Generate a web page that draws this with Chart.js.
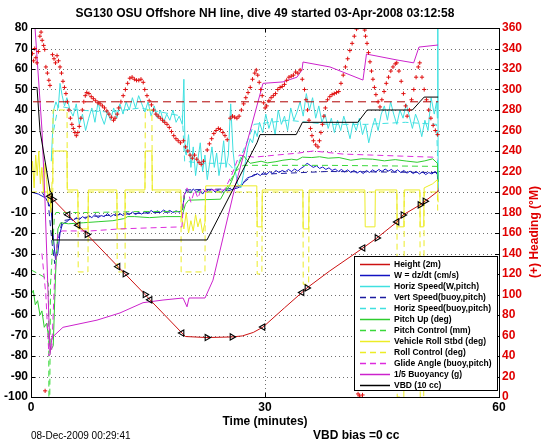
<!DOCTYPE html>
<html>
<head>
<meta charset="utf-8">
<script src="https://cdn.jsdelivr.net/npm/chart.js@4.4.1/dist/chart.umd.min.js"></script>
<style>
  html, body { margin: 0; padding: 0; background: #fff; }
  canvas { display: block; }
</style>
</head>
<body>
<canvas id="dive" width="546" height="442" style="width:546px;height:442px"></canvas>
<script>
// values, [time (minutes), value]
const height = [[2.3,-1.5],[2.44,-2.1],[2.82,-3.6],[4.74,-11.1],[6.03,-16.2],[7.18,-20.7],[11.15,-36.4],[12.05,-39.9],[14.62,-50],[15.26,-52.6],[19.36,-68.8],[19.8,-70.5],[22.56,-71],[25.77,-70.7],[27.1,-70.2],[28.5,-68.5],[29.74,-65.9],[32.5,-56.5],[34.74,-49],[35.38,-46.8],[38.3,-38.5],[41.28,-30.7],[42.56,-27.3],[44.36,-22.4],[46.92,-14.6],[47.69,-11.2],[49.87,-6.3],[50.51,-4.5],[52.05,0],[52.2,0.8]];

const wSpeed = [[0,0],[0.95,-1],[1.9,-3],[2.57,-8],[2.86,-22],[3.14,-33],[3.43,-30],[3.72,-20],[4.0,-16],[4.29,-15],
  [4.6,-14.5],[5.0,-13],[5.4,-14],[5.8,-12.5],[6.2,-13.5],[6.6,-12],[7.0,-13],[7.4,-11.5],[7.8,-12.5],[8.2,-11],[8.6,-12.5],[9.0,-11.5],[9.4,-12],[9.8,-10.5],[10.2,-12],[10.6,-11],[11.0,-11.8],[11.4,-10.5],[11.8,-11.5],[12.2,-10],[12.6,-11],[13.0,-9.8],[13.4,-11],[13.8,-10],[14.2,-10.8],[14.6,-9.5],[15.0,-10.5],[15.4,-9],[15.8,-10.2],[16.2,-9.2],[16.6,-10],[17.0,-8.8],[17.4,-9.8],[17.8,-9],[18.2,-10],[18.6,-9.2],[19.0,-9.8],[19.4,-8.8],
  [19.7,-1],[20.0,1],[20.4,-0.5],[20.8,1.5],[21.2,0],[21.6,1],[22.0,-1],[22.4,1.2],[22.8,0.3],[23.2,1.5],[23.6,0],[24.0,1],[24.4,-0.5],[24.8,1.2],[25.2,0.5],[25.6,1],[26.0,1.5],[26.5,2],[27.0,3],[27.4,5.5],[27.8,7],[28.2,7.5],[28.6,8],
  [29.0,9],[29.4,8],[29.8,9.5],[30.2,8.5],[30.6,10],[31.0,9],[31.4,10.5],[31.8,9.5],[32.2,10.5],[32.6,9.8],[33.0,11],[33.4,10],[33.8,11.2],[34.2,10.2],[34.6,11.5],[35.0,12.5],[35.4,14],[35.8,13],[36.2,12],[36.6,12.8],[37.0,11.5],[37.4,12.2],[37.8,11],[38.2,11.8],[38.6,10.5],[39.0,11.2],[39.4,10],[39.8,11],[40.2,9.8],[40.6,10.8],[41.0,9.5],[41.4,10.5],[41.8,9.2],[42.2,10.2],[42.6,9],[43.0,10.5],[43.4,9.5],[43.8,10.8],[44.2,9.8],[44.6,11],[45.0,10],[45.4,11.2],[45.8,10.2],[46.2,11],[46.6,9.8],[47.0,10.8],[47.4,9.5],[47.8,10.5],[48.2,9.2],[48.6,10.2],[49.0,9],[49.4,10],[49.8,8.8],[50.2,9.8],[50.6,8.5],[51.0,9.5],[51.4,8.8],[51.8,10],[52.1,8.5],[52.2,0]];

const hSpeed = [[2.6,15],[2.9,40],[3.2,44],[3.5,41],[3.72,53],[4.0,47],[4.3,42],
  [4.6,46],[5.0,40],[5.4,37],[5.8,43],[6.2,33],[6.6,38],[7.0,30],[7.4,36],[7.8,41],[8.2,34],[8.6,44],[9.0,37],[9.4,33],[9.8,39],[10.2,35],[10.6,41],[11.0,36],[11.4,43],[11.8,38],[12.2,44],[12.6,40],[13.0,46],[13.4,41],[13.8,47],[14.2,43],[14.6,39],[15.0,44],[15.4,37],[15.8,42],[16.2,36],[16.6,40],[17.0,34],[17.4,38],[17.8,35],[18.2,40],[18.6,34],[19.0,37],[19.4,33],[19.6,55],[19.75,20],
  [19.9,18],[20.2,28],[20.5,12],[20.8,22],[21.1,8],[21.4,16],[21.7,24],[22.0,10],[22.3,18],[22.6,6],[22.9,14],[23.2,22],[23.5,12],[23.8,19],[24.1,8],[24.4,15],[24.7,25],[25.0,12],[25.3,18],[25.6,43],[25.9,20],[26.2,10],[26.5,4],[26.9,2],[27.2,8],[27.5,15],[27.8,22],[28.1,26],[28.4,24],[28.7,30],[29.0,27],
  [29.3,34],[29.7,29],[30.1,38],[30.5,31],[30.9,36],[31.3,28],[31.7,40],[32.1,33],[32.5,37],[32.9,30],[33.3,41],[33.7,35],[34.1,39],[34.5,44],[34.9,37],[35.3,48],[35.7,40],[36.1,46],[36.5,36],[36.9,42],[37.3,34],[37.7,38],[38.1,31],[38.5,36],[38.9,29],[39.3,35],[39.7,30],[40.1,37],[40.5,32],[40.9,26],[41.3,34],[41.7,30],[42.1,36],[42.5,28],[42.9,33],[43.3,24],[43.7,31],[44.1,36],[44.5,30],[44.9,38],[45.3,42],[45.7,35],[46.1,44],[46.5,38],[46.9,33],[47.3,40],[47.7,36],[48.1,43],[48.5,37],[48.9,31],[49.3,38],[49.7,34],[50.1,27],[50.5,35],[50.9,30],[51.3,46],[51.7,38],[52.0,44],[52.1,36],[52.15,100],[52.2,2]];

const vSpeedBuoy = [[1.4,0],[2.2,-5],[2.7,-25],[3.05,-35],[3.4,-25],[4.0,-14],[7.6,-12],[13.3,-10.5],[19.4,-9.5],[19.75,1],[25.3,1.5],[26.7,3],[28.6,8.5],[38,10],[52.1,9.5]];

const hSpeedBuoy = [[2.9,30],[3.5,42],[6,40],[10,39],[14,41],[18,38],[19.4,37],[19.7,15],[22,14],[25.3,14],[26.2,10],[27.2,20],[28.6,33],[33,35],[38,33],[43,33],[48,34],[52,33],[52.2,5]];

const pitch = [[0,-50],[0.3,-48],[0.55,-55],[0.85,-53],[1.15,-60],[1.4,-58],[1.7,-66],[2.0,-64],[2.3,-72],[2.55,-77],[2.85,-75],[3.15,-40],[3.45,-18],[3.8,-15],[4.8,-15.5],[6.7,-15],[8.6,-14.5],[10.5,-14],[11.9,-13],[12.4,-12],[13.3,-12],[15.2,-12.5],[17.2,-12],[19.35,-12],[19.8,-6],[20.2,-4],[24.3,-3.5],[24.8,0],[25.3,2],[25.7,5],[26.2,10],[26.7,14],[27.2,18],[27.6,16],[28.1,14],[29.5,15],[30.3,14.2],[31.4,14.8],[32.3,15.5],[33.4,16],[34.1,15.6],[34.8,17],[36,16.8],[37,17.2],[38.1,16.5],[39.5,16.8],[41,15.5],[42.4,16.2],[43.8,16],[45.3,15.2],[46.7,15.8],[48.1,15.1],[49.5,14.5],[50.5,15.2],[51.5,16.2],[52.1,14],[52.2,5]];

const pitchCtl = [[0,-38],[1,-40],[1.9,-42],[2.25,-45],[2.3,-105],[2.4,-105],[2.5,-45],[3.0,-12],[3.2,-10],[7.6,-10],[14.3,-9.5],[19.35,-9.5],[19.7,0],[24.8,0],[26.2,10],[27.2,13],[38.1,13],[52.1,12.5]];

const roll = [[0,5],[0.2,15],[0.4,2],[0.6,18],[0.8,8],[1.0,20],[1.2,4],[1.4,12],[1.6,0],[1.8,14],[2.0,6],[2.2,-5],[2.4,2],[2.55,-10],[2.7,5],[2.8,20],[4.6,20],[4.65,1],[6.0,1],[6.05,-18],[7.3,-18],[7.35,1],[11.0,1],[11.05,-18],[12.0,-18],[12.05,1],[14.6,1],[14.65,20],[15.5,20],[15.55,1],[19.2,1],[19.3,-12],[19.6,-18],[19.9,-10],[20.2,-20],[20.5,-14],[20.8,-19],[21.1,-11],[21.4,-17],[21.7,-13],[22.0,-20],[22.3,-15],[22.4,3],[28.95,3],[29.0,-17],[29.6,-17],[29.65,1],[34.85,1],[34.9,-18],[35.6,-18],[35.65,1],[42.8,1],[42.85,-17],[44.1,-17],[44.15,1],[46.9,1],[46.95,-17],[47.8,-17],[47.85,1],[49.85,1],[49.9,-17],[50.35,-17],[50.4,2],[51.5,4],[52.1,6],[52.2,-5]];

const rollCtl = [[0,0],[2.8,0],[2.82,40],[4.62,40],[4.65,0],[6.03,0],[6.05,-39],[7.3,-39],[7.35,0],[11.03,0],[11.05,-39],[12.05,-39],[12.1,0],[14.62,0],[14.65,40],[15.5,40],[15.55,0],[19.23,0],[19.25,-39],[22.3,-39],[22.35,0],[28.97,0],[29.0,-40],[29.6,-40],[29.65,0],[34.87,0],[34.9,-45],[35.6,-45],[35.65,0],[46.92,0],[46.95,-100],[47.8,-100],[47.85,0],[49.87,0],[49.9,-100],[50.35,-100],[50.4,0],[52.1,0],[52.15,-10]];

const glide = [[1.4,-30],[1.9,-50],[2.3,-80],[2.65,-78],[3.05,-40],[3.45,-20],[4.0,-19],[7.6,-19],[11.4,-18],[15.2,-17.5],[19.35,-17],[19.6,-2],[20.0,2],[20.5,-5],[21.0,1],[21.4,-3],[21.9,2],[22.4,0],[22.9,1],[24.8,1],[25.7,8],[26.7,18],[28.6,17],[31.4,18],[34.3,19],[36.2,20],[40,18.5],[43.8,18],[47.6,17.5],[51.5,17],[52.1,16]];

const buoyancy = [[0.38,95],[0.51,80.5],[1.41,30.2],[1.79,-3.9],[2.44,-78.5],[2.69,-71],[4.1,-66],[8.46,-62.5],[11.41,-59],[14.36,-54],[16.92,-52.7],[19.49,-51.7],[20.0,-56],[20.26,-51.7],[22.31,-51.7],[23.33,-43],[26.15,2.4],[29.74,53],[32.31,53.7],[34.1,56],[34.74,59.5],[34.87,63.4],[38.33,61],[42.56,54.6],[43.01,67.3],[46.92,64.4],[49.06,63],[49.74,70.7],[52.18,71.7]];

const vbd = [[0.26,51],[0.77,51],[1.15,30],[2.44,0.5],[2.75,-1],[2.76,-23.4],[22.56,-23.4],[28.97,24],[29.36,28],[34.0,28],[34.8,34],[41.9,34],[43.1,40],[48.9,40],[50.4,46.3],[52.2,46.3]];

// right axis, degrees magnetic
const headingDesired = [[0.26,288],[52.2,288]];
const heading = [[0.19,335],[0.33,328],[0.48,340],[0.62,331],[0.76,326],[0.95,337],[1.14,352],[1.29,356],[1.43,348],[1.62,343],[1.76,339],[1.81,6],[1.91,322],[2.1,316],[2.29,309],[2.43,304],
  [2.76,334],[2.95,330],[3.14,326],[3.34,333],[3.53,328],[3.72,322],[3.91,316],[4.1,308],[4.29,302],[4.48,296],[4.67,288],[4.86,280],[5.05,272],[5.24,266],[5.43,262],[5.62,258],[5.81,255],[6.0,258],[6.19,264],[6.39,272],[6.58,280],[6.77,288],[6.96,294],[7.15,297],[7.43,296],[7.72,293],[8.0,291],[8.29,289],[8.58,287],[8.86,286],[9.15,284],[9.43,282],[9.72,279],[10.0,276],[10.29,273],[10.58,270],[10.77,272],[11.05,276],[11.25,282],[11.53,288],[11.82,294],[12.1,300],[12.39,306],[12.67,311],[12.96,312],[13.25,310],[13.53,309],[13.82,309],[14.1,310],[14.39,307],[14.58,300],[14.87,294],[15.15,289],[15.44,285],[15.72,280],[16.01,276],[16.3,274],[16.58,272],[16.87,270],[17.15,268],[17.44,266],[17.73,263],[18.01,259],[18.3,255],[18.58,252],[18.87,250],[19.16,248],[19.54,250],[19.82,244],[20.11,240],[20.39,236],[20.68,233],[20.97,236],[21.25,232],[21.54,229],[21.82,227],[22.11,230],
  [22.59,241],[22.87,247],[23.16,252],[23.44,257],[23.73,260],[24.02,262],[24.3,261],[24.59,258],[24.87,255],[25.16,251],
  [25.54,272],[25.83,274],[26.11,273],[26.4,272],[26.68,274],[26.97,280],[27.26,286],[27.54,292],[27.83,297],[28.11,302],[28.4,310],[28.69,316],[28.88,319],[29.07,314],[29.26,307],[29.45,300],[29.64,294],[29.83,287],[30.02,282],[30.21,284],[30.5,289],[30.78,292],[31.07,294],[31.35,296],[31.64,300],[31.93,302],[32.21,303],[32.5,305],[32.78,309],[33.07,312],[33.36,313],[33.64,314],[33.93,317],[34.21,316],[34.5,319],[34.78,310],[35.07,300],[35.26,290],[35.45,280],[35.64,270],[35.83,262],[36.02,255],[36.21,250],[36.5,246],[36.79,244],[36.98,250],[37.17,258],[37.36,266],[37.55,274],[37.74,282],[38.02,290],[38.31,293],[38.6,295],[38.88,296],[39.17,297],[39.45,298],[39.74,306],[40.03,314],[40.31,322],[40.6,330],[40.88,338],[41.17,345],[41.45,352],[41.74,359],[41.93,3],[42.12,1],[42.5,2],[42.79,358],[42.89,352],[43.08,345],[43.27,336],[43.46,327],[43.65,318],[43.84,310],[44.03,302],[44.22,295],[44.5,288],[44.74,283],[44.98,290],[45.27,298],[45.55,306],[45.84,312],[46.13,318],[46.41,322],[46.7,325],[46.89,326],[47.17,318],[47.46,308],[47.75,296],[48.03,284],[48.22,274],[48.51,280],[48.79,290],[49.08,300],[49.37,312],[49.65,322],[49.84,326],[50.13,312],[50.41,300],[50.7,290],[50.99,280],[51.27,272],[51.56,265],[51.84,260],[52.13,256]];

// triangle markers on the height trace: data index -> rotation
const heightMarks = {1:-90, 2:90, 3:-90, 4:-90, 5:90, 6:-90, 7:90, 8:90, 9:-90, 10:-90, 12:90, 13:90, 16:-90, 18:-90, 19:90, 22:-90, 23:90, 24:-90, 25:90, 26:90, 27:90};

const FONT = '"Liberation Sans", Arial, Helvetica, sans-serif';
const RED = '#e00000';
const DASH = [6, 4];
const pts = arr => arr.map(p => ({ x: p[0], y: p[1] }));

const series = [
  { label: 'Height (2m)', data: height, color: '#cc1111', dash: [] },
  { label: 'W = dz/dt (cm/s)', data: wSpeed, color: '#1212c2', dash: [] },
  { label: 'Horiz Speed(W,pitch)', data: hSpeed, color: '#3fe0e0', dash: [] },
  { label: 'Vert Speed(buoy,pitch)', data: vSpeedBuoy, color: '#1c1ca0', dash: DASH },
  { label: 'Horiz Speed(buoy,pitch)', data: hSpeedBuoy, color: '#3fe0e0', dash: DASH },
  { label: 'Pitch Up (deg)', data: pitch, color: '#2ecc2e', dash: [] },
  { label: 'Pitch Control (mm)', data: pitchCtl, color: '#3ad83a', dash: DASH },
  { label: 'Vehicle Roll Stbd (deg)', data: roll, color: '#ecec26', dash: [] },
  { label: 'Roll Control (deg)', data: rollCtl, color: '#ecec26', dash: DASH },
  { label: 'Glide Angle (buoy,pitch)', data: glide, color: '#dd2bdd', dash: DASH },
  { label: '1/5 Buoyancy (g)', data: buoyancy, color: '#cc22cc', dash: [] },
  { label: 'VBD (10 cc)', data: vbd, color: '#000000', dash: [] }
];

const datasets = series.map((s, i) => ({
  label: s.label,
  data: pts(s.data),
  yAxisID: 'y',
  borderColor: s.color,
  borderWidth: 1,
  borderDash: s.dash,
  pointRadius: 0,
  order: i === 0 ? 1 : series.length + 2 - i,
  inLegend: true
}));

// height gets the open triangles
Object.assign(datasets[0], {
  pointStyle: 'triangle',
  pointRadius: c => heightMarks[c.dataIndex] !== undefined ? 3.6 : 0,
  pointRotation: c => heightMarks[c.dataIndex] || 0,
  pointBorderColor: '#000',
  pointBackgroundColor: 'rgba(0,0,0,0)',
  pointBorderWidth: 1.1
});

datasets.push({
  label: 'desired heading', data: pts(headingDesired), yAxisID: 'y2',
  borderColor: '#b00000', borderWidth: 1, borderDash: [8, 5], pointRadius: 0, order: 0.5
});
datasets.push({
  label: 'heading', data: pts(heading), yAxisID: 'y2', showLine: false,
  pointStyle: 'cross', pointRadius: 2.1, pointBorderColor: '#e01010', pointBorderWidth: 1, order: 0
});

const legendBox = { left: 354, top: 256, right: 497, bottom: 390, first: 264, row: 11, x0: 360, x1: 390, tx: 394 };

const decor = {
  id: 'decor',
  beforeDatasetsDraw(chart) {
    const { ctx, chartArea: a, scales } = chart;
    ctx.save();
    ctx.strokeStyle = '#707070';
    ctx.lineWidth = 1;
    ctx.setLineDash([1, 3]);
    ctx.beginPath();
    scales.y.ticks.forEach(t => {
      const py = Math.round(scales.y.getPixelForValue(t.value)) + 0.5;
      if (py > a.top + 1 && py < a.bottom - 1) { ctx.moveTo(a.left, py); ctx.lineTo(a.right, py); }
    });
    scales.x.ticks.forEach(t => {
      const px = Math.round(scales.x.getPixelForValue(t.value)) + 0.5;
      if (px > a.left + 1 && px < a.right - 1) { ctx.moveTo(px, a.top); ctx.lineTo(px, a.bottom); }
    });
    ctx.stroke();
    ctx.restore();
  },
  afterDatasetsDraw(chart) {
    const { ctx, chartArea: a, scales } = chart;
    ctx.save();
    // axes box and inner ticks
    ctx.strokeStyle = '#000';
    ctx.lineWidth = 1;
    ctx.strokeRect(Math.round(a.left) + 0.5, Math.round(a.top) + 0.5, Math.round(a.right - a.left), Math.round(a.bottom - a.top));
    ctx.beginPath();
    scales.y.ticks.forEach(t => {
      const py = Math.round(scales.y.getPixelForValue(t.value)) + 0.5;
      ctx.moveTo(a.left, py); ctx.lineTo(a.left + 4, py);
    });
    scales.y2.ticks.forEach(t => {
      const py = Math.round(scales.y2.getPixelForValue(t.value)) + 0.5;
      ctx.moveTo(a.right, py); ctx.lineTo(a.right - 4, py);
    });
    scales.x.ticks.forEach(t => {
      const px = Math.round(scales.x.getPixelForValue(t.value)) + 0.5;
      ctx.moveTo(px, a.bottom); ctx.lineTo(px, a.bottom - 4);
      ctx.moveTo(px, a.top); ctx.lineTo(px, a.top + 4);
    });
    ctx.stroke();

    // legend
    const b = legendBox;
    ctx.fillStyle = '#fff';
    ctx.fillRect(b.left, b.top, b.right - b.left, b.bottom - b.top);
    ctx.strokeRect(b.left + 0.5, b.top + 0.5, b.right - b.left, b.bottom - b.top);
    ctx.font = 'bold 8.5px ' + FONT;
    ctx.textBaseline = 'middle';
    ctx.textAlign = 'left';
    chart.data.datasets.filter(d => d.inLegend).forEach((d, i) => {
      const yy = Math.round(b.first + i * b.row) + 0.5;
      ctx.strokeStyle = d.borderColor;
      ctx.lineWidth = 1.5;
      ctx.setLineDash(d.borderDash || []);
      ctx.beginPath();
      ctx.moveTo(b.x0, yy); ctx.lineTo(b.x1, yy);
      ctx.stroke();
      ctx.setLineDash([]);
      ctx.fillStyle = '#000';
      ctx.fillText(d.label, b.tx, yy);
    });
    ctx.restore();
  },
  afterDraw(chart) {
    const { ctx, chartArea: a } = chart;
    const cx = (a.left + a.right) / 2;
    ctx.save();
    ctx.fillStyle = '#000';
    ctx.textBaseline = 'middle';
    ctx.textAlign = 'center';
    ctx.font = 'bold 12px ' + FONT;
    ctx.fillText('SG130 OSU Offshore NH line, dive 49 started 03-Apr-2008 03:12:58', cx, 14);
    ctx.fillText('Time (minutes)', cx, 422);
    ctx.textAlign = 'left';
    ctx.fillText('VBD bias =0 cc', 313, 436);
    ctx.font = '10px ' + FONT;
    ctx.fillText('08-Dec-2009 00:29:41', a.left, 436);
    ctx.translate(535, 232);
    ctx.rotate(-Math.PI / 2);
    ctx.textAlign = 'center';
    ctx.fillStyle = RED;
    ctx.font = 'bold 12px ' + FONT;
    ctx.fillText('(+) Heading (\u00B0M)', 0, 0);
    ctx.restore();
  }
};

const tickFont = { family: FONT, size: 12, weight: 'bold' };

new Chart(document.getElementById('dive'), {
  type: 'line',
  data: { datasets },
  options: {
    responsive: false,
    animation: false,
    devicePixelRatio: 1,
    events: [],
    layout: { padding: { top: 28, left: 0, right: 0, bottom: 0 } },
    elements: { line: { tension: 0 } },
    plugins: { legend: { display: false }, tooltip: { enabled: false }, title: { display: false } },
    scales: {
      x: {
        type: 'linear', min: 0, max: 60,
        grid: { display: false, drawTicks: false }, border: { display: false },
        ticks: { stepSize: 30, color: '#000', font: tickFont, padding: 3, maxRotation: 0, autoSkip: false },
        afterFit: s => { s.height = 45; }
      },
      y: {
        type: 'linear', position: 'left', min: -100, max: 80,
        grid: { display: false, drawTicks: false }, border: { display: false },
        ticks: { stepSize: 10, color: '#000', font: tickFont, padding: 3, autoSkip: false },
        afterFit: s => { s.width = 31; }
      },
      y2: {
        type: 'linear', position: 'right', min: 0, max: 360,
        grid: { display: false, drawTicks: false }, border: { display: false },
        ticks: { stepSize: 20, color: RED, font: tickFont, padding: 3, autoSkip: false },
        afterFit: s => { s.width = 47; }
      }
    }
  },
  plugins: [decor]
});
</script>
</body>
</html>
